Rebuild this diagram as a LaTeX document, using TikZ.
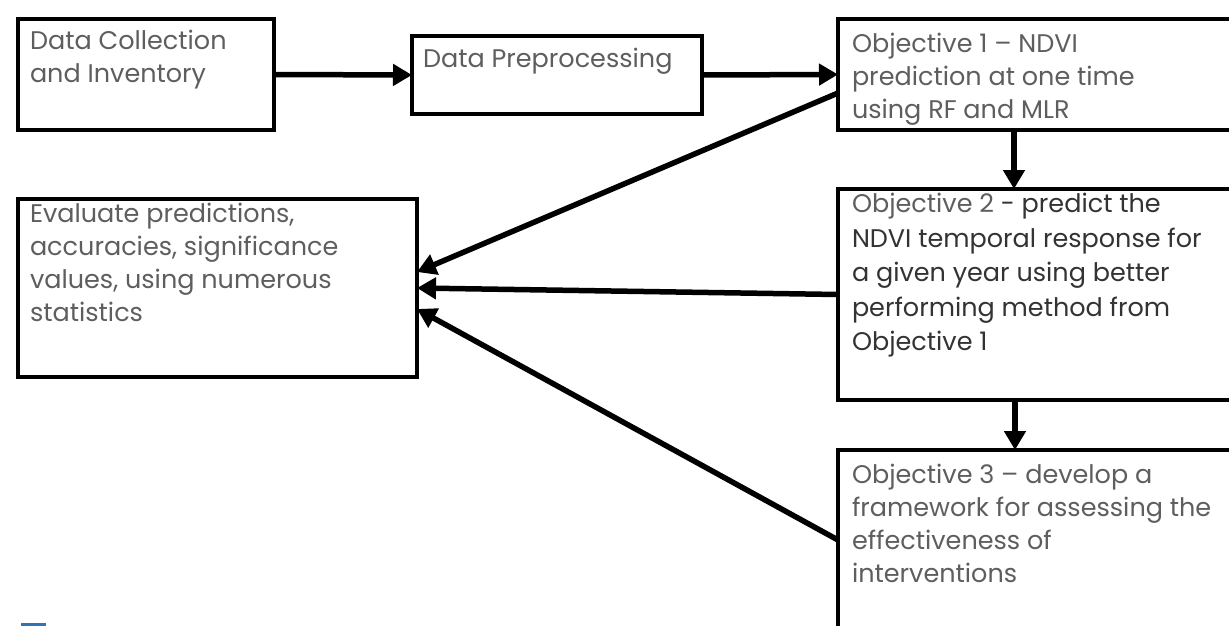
\documentclass[tikz,border=0pt]{standalone}
\usepackage{fontspec}
\setmainfont{Poppins}
\usetikzlibrary{arrows.meta}
\definecolor{txtgray}{HTML}{5E5E5E}
\definecolor{txtdark}{HTML}{333333}
\definecolor{titleblue}{HTML}{2E75B6}
\begin{document}
\begin{tikzpicture}[x=1pt,y=-1pt,
  box/.style={draw=black, line width=3.8pt, inner sep=0pt, outer sep=0pt, anchor=north west},
  lbl/.style={anchor=north west, align=left, inner sep=0pt, outer sep=0pt, text=txtgray, font=\fontsize{25.5}{33}\selectfont},
  conn/.style={line width=5.5pt, -{Triangle[length=19pt,width=21pt]}}]
\useasboundingbox (0,0) rectangle (1229,626);
\clip (0,0) rectangle (1229,626);
% boxes
\node[box, minimum width=256pt, minimum height=111pt] (b1) at (18,19) {};
\node[box, line width=3.2pt, minimum width=290pt, minimum height=78pt] (b2) at (412,36) {};
\node[box, minimum width=402pt, minimum height=111pt] (b3) at (838,19) {};
\node[box, minimum width=402pt, minimum height=211pt] (b4) at (838,189) {};
\node[box, minimum width=402pt, minimum height=250pt] (b5) at (838,450) {};
\node[box, minimum width=399pt, minimum height=178pt] (b6) at (18,199) {};
% texts
\node[lbl] (t1) at (30,26.9) {\strut Data Collection\\and Inventory};
\node[lbl] (t2) at (423,44.9) {\strut Data Preprocessing};
\node[lbl] (t3) at (852,28.9) {\strut Objective 1 – NDVI\\prediction at one time\\using RF and MLR};
\node[lbl, font=\fontsize{25.5}{34.5}\selectfont] (t4) at (852,188.8) {\strut Objective 2 \textcolor{txtdark}{- predict the}\\\textcolor{txtdark}{NDVI temporal response for}\\\textcolor{txtdark}{a given year using better}\\\textcolor{txtdark}{performing method from}\\\textcolor{txtdark}{Objective 1}};
\node[lbl] (t5) at (852,459.9) {\strut Objective 3 – develop a\\framework for assessing the\\effectiveness of\\interventions};
\node[lbl] (t6) at (30,198.9) {\strut Evaluate predictions,\\accuracies, significance\\values, using numerous\\statistics};
% connectors
\draw[conn] (b1.east) -- (b2.west);
\draw[conn] (b2.east) -- (b3.west);
\draw[conn] ([xshift=176pt]b3.south west) -- ([xshift=176pt]b4.north west);
\draw[conn] ([xshift=177pt]b4.south west) -- ([xshift=177pt]b5.north west);
\draw[conn] ([yshift=-18.5pt]b3.west) -- ([yshift=16pt]b6.east);
\draw[conn] (b4.west) -- (b6.east);
\draw[conn] ([yshift=-90pt]b5.north west) -- ([yshift=-21pt]b6.east);
% fragment of a title letter at the bottom edge
\fill[titleblue] (21,623) rectangle (46,627);
\end{tikzpicture}
\end{document}
